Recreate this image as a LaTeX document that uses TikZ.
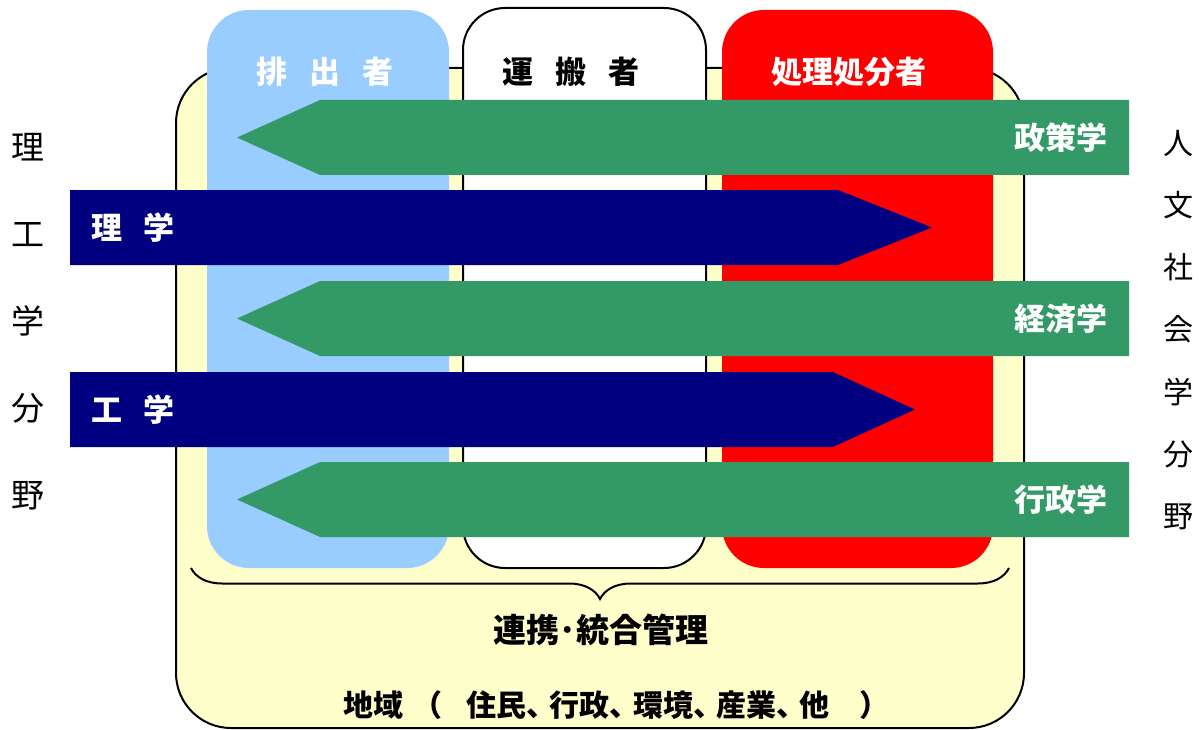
\documentclass[tikz,border=0pt]{standalone}
\usepackage{fontspec}
\setmainfont{Noto Sans CJK JP}
\usetikzlibrary{positioning,shapes.arrows,decorations.pathreplacing}
\definecolor{areaylw}{HTML}{FFFFCC}
\definecolor{emitblue}{HTML}{99CCFF}
\definecolor{treatred}{HTML}{FF0000}
\definecolor{humgreen}{HTML}{339966}
\definecolor{scinavy}{HTML}{000080}
\newcommand{\hcomma}{\makebox[.78em][l]{、}}
\begin{document}
\begin{tikzpicture}[x=1pt, y=-1pt,
    col/.style = {rounded corners=42pt, minimum width=242pt, minimum height=558pt, inner sep=0pt},
    head/.style = {font=\fontsize{31}{31}\selectfont\bfseries, inner sep=0pt},
    arr/.style = {single arrow, single arrow head extend=0pt, minimum width=75pt, inner sep=0pt, outer sep=0pt, anchor=tail},
    word/.style = {font=\fontsize{31}{31}\selectfont\bfseries, text=white, inner sep=0pt},
    side/.style = {align=center, inner sep=0pt}]
    \useasboundingbox (0,0) rectangle (1204,730);
    % region and the three actors
    \node[fill=areaylw, draw, line width=2pt, rounded corners=55pt, minimum width=848pt, minimum height=660pt] (area) at (600,398) {};
    \node[col, fill=emitblue] (emit) at (328,289) {};
    \node[col, fill=white, draw, line width=2pt, minimum width=243pt, minimum height=560pt] (carry) at (584.5,288) {};
    \node[col, fill=treatred, minimum width=271pt] (treat) at (857.5,289) {};
    \node[head, text=white] (emitlbl) at (325,72) {排\hspace{.7em}出\hspace{.7em}者};
    \node[head] (carrylbl) at (571,72) {運\hspace{.7em}搬\hspace{.7em}者};
    \node[head, text=white] (treatlbl) at (849,72) {処理処分者};
    % social science arrows
    \node[arr, fill=humgreen, shape border rotate=180, minimum height=892pt, single arrow tip angle=48.6] (policy) at (1129,137.5) {};
    \node[arr, fill=humgreen, shape border rotate=180, minimum height=892pt, single arrow tip angle=48.6] (econ) at (1129,318.5) {};
    \node[arr, fill=humgreen, shape border rotate=180, minimum height=892pt, single arrow tip angle=48.6] (admin) at (1129,499.5) {};
    \node[word, left=21pt of policy.tail] {政策学};
    \node[word, left=21pt of econ.tail] {経済学};
    \node[word, left=21pt of admin.tail] {行政学};
    % science arrows
    \node[arr, fill=scinavy, minimum height=862pt, single arrow tip angle=43.5] (sci) at (70,227.5) {};
    \node[arr, fill=scinavy, minimum height=845pt, single arrow tip angle=49.1] (eng) at (70,409.5) {};
    \node[word, right=21pt of sci.tail] {理\hspace{.7em}学};
    \node[word, right=21pt of eng.tail] {工\hspace{.7em}学};
    % brace and bottom texts
    \coordinate (bl) at (191,568);
    \coordinate (br) at (1009,568);
    \draw[line width=2pt, decorate, decoration={brace, mirror, amplitude=31pt}] (bl) -- (br);
    \node[head, font=\fontsize{33}{33}\selectfont\bfseries] (link) at (601,630) {連携･統合管理};
    \node[head, anchor=west, font=\fontsize{30}{30}\selectfont\bfseries] (region) at (343,705) {地域\hspace{.3em}（\hspace{.8em}住民\hcomma 行政\hcomma 環境\hcomma 産業\hcomma 他\hspace{1em}）};
    % fields
    \node[side, font=\fontsize{33}{87}\selectfont] (scifield) at (28,322) {理\\工\\学\\分\\野};
    \node[side, font=\fontsize{30}{62.3}\selectfont] (humfield) at (1178,330) {人\\文\\社\\会\\学\\分\\野};
\end{tikzpicture}
\end{document}
